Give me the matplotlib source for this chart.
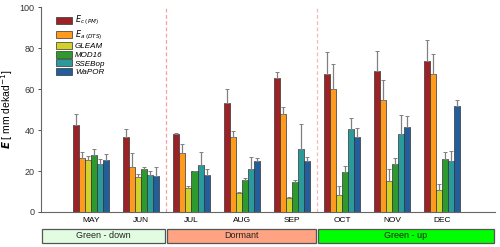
import matplotlib
matplotlib.use("Agg")
import matplotlib.pyplot as plt
from matplotlib.patches import Rectangle
import matplotlib.transforms as mtransforms
import numpy as np

plt.rcParams['font.family'] = ['Liberation Sans', 'DejaVu Sans']

months = ["MAY", "JUN", "JUL", "AUG", "SEP", "OCT", "NOV", "DEC"]

# bar heights (mm dekad-1)
ec_pm = [42.4, 36.4, 37.9, 53.2, 65.7, 67.6, 69.1, 73.8]
ea_dts = [26.5, 22.0, 28.8, 36.7, 47.8, 60.0, 54.6, 67.2]
gleam = [25.3, 16.9, 11.5, 9.1, 6.7, 8.3, 15.1, 10.9]
mod16 = [27.8, 21.0, 20.0, 15.6, 14.6, 19.3, 23.4, 25.9]
ssebop = [23.4, 17.9, 23.1, 21.1, 30.7, 40.5, 38.2, 24.7]
wapor = [25.5, 17.7, 18.0, 24.9, 25.0, 36.4, 41.5, 51.9]

# upper error (top of whisker minus bar)
ec_err = [5.4, 4.3, 0.6, 6.8, 2.9, 10.8, 9.6, 10.3]
ea_err = [2.9, 6.9, 4.4, 2.7, 3.3, 12.5, 9.8, 10.0]
gleam_err = [2.0, 1.6, 1.3, 0.7, 0.8, 4.4, 6.0, 2.9]
mod16_err = [2.9, 1.0, 0.1, 0.8, 0.8, 3.3, 2.8, 3.4]
ssebop_err = [2.3, 2.1, 6.0, 5.9, 12.4, 5.4, 9.4, 4.9]
wapor_err = [2.7, 4.3, 3.0, 1.3, 1.8, 4.4, 5.3, 2.7]

labels = [r"$E_{c\ (PM)}$", r"$E_{a\ (DTS)}$", "GLEAM", "MOD16", "SSEBop", "WaPOR"]
colors = ["#9B2226", "#FF9A1F", "#D2D12A", "#2E9A2E", "#2A9A9A", "#235E9A"]
series = [ec_pm, ea_dts, gleam, mod16, ssebop, wapor]
errors = [ec_err, ea_err, gleam_err, mod16_err, ssebop_err, wapor_err]

phases = ["Green - down", "Dormant", "Green - up"]
phase_edges = [0, 2.5, 5.5, 9.05]
phase_colors = ["#E2FCE2", "#FFA382", "#00FF00"]

fig = plt.figure(figsize=(5, 2.47), dpi=100)
ax = fig.add_axes([0.082, 0.142, 0.908, 0.828])

x = np.arange(1, len(months) + 1)
w = 0.12
for i, (vals, errs) in enumerate(zip(series, errors)):
    ax.bar(x + (i - 2.5) * w, vals, w, color=colors[i], edgecolor="#333333",
           linewidth=0.5, label=labels[i],
           yerr=[np.zeros(len(errs)), errs], ecolor="#808080",
           error_kw=dict(elinewidth=0.9, capsize=1.6, capthick=0.7))

for xd, c in [(2.5, "#F5A0A0"), (5.5, "#F7B8B8")]:
    ax.axvline(xd, color=c, linestyle=(0, (3, 2)), linewidth=0.9, zorder=0)

ax.set_xlim(0, 9.05)
ax.set_ylim(0, 100)
ax.set_yticks([0, 20, 40, 60, 80, 100])
ax.set_xticks(x)
ax.set_xticklabels(months)
ax.tick_params(axis="x", length=0, labelsize=6, pad=4)
ax.tick_params(axis="y", length=2.5, width=0.6, labelsize=6.5, pad=2, colors="#333333")
for s in ["top", "right"]:
    ax.spines[s].set_visible(False)
for s in ["left", "bottom"]:
    ax.spines[s].set_color("#666666")
    ax.spines[s].set_linewidth(0.8)

ax.set_ylabel(r"$\mathbfit{E}$ [ mm dekad$^{-1}$]", fontsize=7.5)
ax.yaxis.set_label_coords(-0.057, 0.5)

leg = ax.legend(loc="upper left", bbox_to_anchor=(0.025, 0.985), frameon=False,
                fontsize=5.8, handlelength=2.0, handleheight=0.9,
                labelspacing=0.06, handletextpad=0.4, borderaxespad=0)
for t in leg.get_texts():
    t.set_fontstyle("italic")

trans = mtransforms.blended_transform_factory(ax.transData, ax.transAxes)
for name, x0, x1, fc in zip(phases, phase_edges[:-1], phase_edges[1:], phase_colors):
    ax.add_patch(Rectangle((x0 + 0.02, -0.082), x1 - x0 - 0.04, -0.068, transform=trans,
                           facecolor=fc, edgecolor="#555555", linewidth=0.9, clip_on=False))
    ax.text((x0 + x1) / 2, -0.116, name, transform=trans, ha="center", va="center",
            fontsize=6.5, color="#222222")

fig.savefig("out.png", dpi=100)
